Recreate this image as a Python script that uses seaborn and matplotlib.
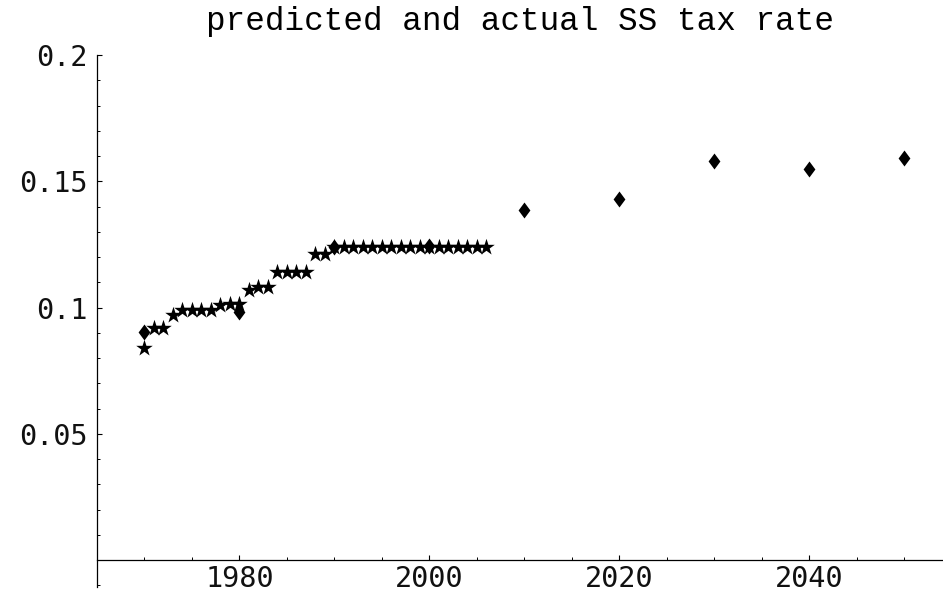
import numpy as np
import pandas as pd
import matplotlib
matplotlib.use("Agg")
import matplotlib.pyplot as plt
import seaborn as sns

# ---- data ----
actual_years = list(range(1970, 2007))
actual_rate = [0.084, 0.092, 0.092, 0.097, 0.099, 0.099, 0.099, 0.099, 0.101, 0.1016,
               0.1016, 0.107, 0.108, 0.108, 0.114, 0.114, 0.114, 0.114, 0.1212, 0.1212,
               0.124, 0.124, 0.124, 0.124, 0.124, 0.124, 0.124, 0.124, 0.124, 0.124,
               0.124, 0.124, 0.124, 0.124, 0.124, 0.124, 0.124]
pred_years = [1970, 1980, 1990, 2000, 2010, 2020, 2030, 2040, 2050]
pred_rate = [0.0905, 0.0983, 0.1240, 0.1245, 0.1385, 0.1428, 0.1582, 0.1548, 0.1592]

xtick_values = [1980, 2000, 2020, 2040]
xtick_labels = ["1980", "2000", "2020", "2040"]
ytick_values = [0.05, 0.1, 0.15, 0.2]
ytick_labels = ["0.05", "0.1", "0.15", "0.2"]
title = "predicted and actual SS tax rate"

actual_df = pd.DataFrame({"year": actual_years, "rate": actual_rate})
pred_df = pd.DataFrame({"year": pred_years, "rate": pred_rate})

sns.set_style("white")
plt.rcParams["font.family"] = ["DejaVu Sans Mono", "DejaVu Sans"]

fig = plt.figure(figsize=(9.43, 5.95), dpi=100)
ax = fig.add_axes([97 / 943, 8 / 595, 846 / 943, 532 / 595])

diamond = [(0, 1), (0.74, 0), (0, -1), (-0.74, 0)]
sns.scatterplot(data=pred_df, x="year", y="rate", marker=diamond, s=11.5 ** 2,
                color="black", linewidth=0, ax=ax, zorder=3)
sns.scatterplot(data=actual_df, x="year", y="rate", marker="*", s=12.5 ** 2,
                color="black", linewidth=0, ax=ax, zorder=4)

ax.set_xlim(1965, 1965 + 846 / 9.5)
ax.set_ylim(0.2 - 532 / 2526, 0.2)

ax.spines["top"].set_visible(False)
ax.spines["right"].set_visible(False)
ax.spines["bottom"].set_position(("data", 0))
for s in ("left", "bottom"):
    ax.spines[s].set_color("black")
    ax.spines[s].set_linewidth(0.9)

ax.set_xticks(xtick_values, xtick_labels)
ax.set_yticks(ytick_values, ytick_labels)
ax.xaxis.set_minor_locator(matplotlib.ticker.MultipleLocator(5))
ax.yaxis.set_minor_locator(matplotlib.ticker.MultipleLocator(0.01))

ax.tick_params(axis="both", which="major", direction="in", length=3.8, width=0.8,
               color="black", labelsize=20.5, labelcolor="#111111")
ax.tick_params(axis="both", which="minor", direction="in", length=2.2, width=0.7,
               color="black")
ax.tick_params(axis="y", which="major", pad=7)
ax.tick_params(axis="x", which="major", pad=3.5)
ax.tick_params(left=True, bottom=True, which="both")

ax.set_xlabel("")
ax.set_ylabel("")
ax.grid(False)
ax.set_title(title, fontfamily="Liberation Mono", fontsize=23.5, pad=18, color="black")

fig.savefig("out.png", dpi=100)
